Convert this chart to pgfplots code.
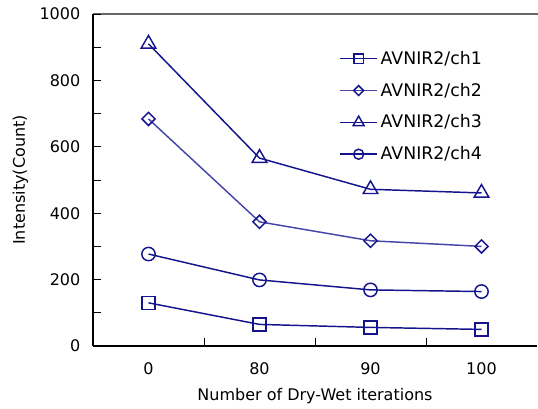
\documentclass[border=0pt]{standalone}
\usepackage{fontspec}
\setmainfont{DejaVu Sans}
\usepackage{pgfplots}
\pgfplotsset{compat=1.18}
\definecolor{navyline}{HTML}{14148C}
\definecolor{navylight}{HTML}{4646A8}

\begin{document}
\begin{tikzpicture}
\path[use as bounding box] (0pt,0pt) rectangle (403.5pt,-306.75pt);
% grey frame line along the top of the plot area
\draw[black!60, line width=1.2pt] (69.75pt,-10.5pt) -- (403.5pt,-10.5pt);
\begin{axis}[
  at={(69.75pt,-259.5pt)}, anchor=south west,
  scale only axis,
  width=333pt, height=249pt,
  xmin=-0.5, xmax=3.5,
  ymin=0, ymax=1000,
  axis lines*=left,
  axis line style={black, line width=0.9pt},
  tick align=inside,
  tick style={black, line width=0.6pt},
  major tick length=6pt,
  minor tick length=6pt,
  xtick={0.5,1.5,2.5}, xticklabels={},
  extra x ticks={0,1,2,3},
  extra x tick labels={0,80,90,100},
  extra x tick style={major tick length=0pt, xticklabel style={yshift=-9pt}},
  ytick={0,200,...,1000},
  minor ytick={100,300,...,900},
  yticklabel style={xshift=-6pt, /pgf/number format/1000 sep={}},
  /pgf/number format/assume math mode=true,
  ticklabel style={font=\fontsize{12}{14}\selectfont},
  label style={font=\fontsize{12}{14}\selectfont},
  xlabel={Number of Dry-Wet iterations},
  ylabel={Intensity(Count)},
  xlabel style={at={(axis description cs:0.5,0)}, anchor=north, yshift=-28pt},
  ylabel style={at={(axis description cs:0,0.5)}, anchor=south, yshift=45pt},
  clip=false,
  legend style={at={(axis description cs:0.545,0.905)}, anchor=north west, draw=none, fill=none,
    font=\fontsize{13}{15}\selectfont, row sep=8.5pt,
    /tikz/every even column/.append style={column sep=2pt}},
  legend cell align=left,
  legend image code/.code={%
    \draw[#1, every mark/.append style={scale=0.75}, mark repeat=2, mark phase=2]
      plot coordinates {(0pt,0pt) (14pt,0pt) (28pt,0pt)};},
  every axis plot/.append style={line width=1.1pt},
]
\addplot[color=navyline, mark=square, mark size=4.8pt,
  mark options={fill=white, draw=navyline, line width=1.1pt}]
  coordinates {(0,130) (1,65) (2,56) (3,50)};
\addlegendentry{AVNIR2/ch1}
\addplot[color=navylight, mark=square, mark size=3.5pt,
  mark options={rotate=45, fill=white, draw=navyline, line width=1.1pt}]
  coordinates {(0,684) (1,374) (2,317) (3,300)};
\addlegendentry{AVNIR2/ch2}
\addplot[color=navyline, mark=triangle, mark size=6.3pt,
  mark options={fill=white, draw=navyline, line width=1.1pt}]
  coordinates {(0,910) (1,566) (2,472) (3,461)};
\addlegendentry{AVNIR2/ch3}
\addplot[color=navyline, mark=o, mark size=5pt,
  mark options={fill=white, draw=navyline, line width=1.1pt}]
  coordinates {(0,277) (1,199) (2,169) (3,164)};
\addlegendentry{AVNIR2/ch4}
\end{axis}
\end{tikzpicture}
\end{document}
